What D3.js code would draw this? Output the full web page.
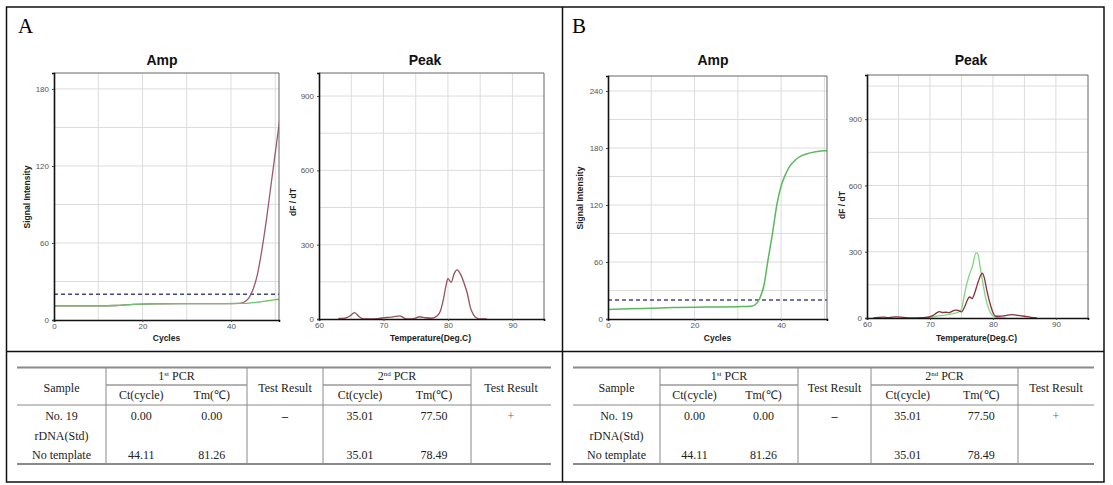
<!DOCTYPE html>
<html><head><meta charset="utf-8">
<script src="https://cdn.jsdelivr.net/npm/d3@7"></script>
<style>body{margin:0;background:#fff}</style>
</head><body><svg id="c" width="1113" height="485"></svg>
<script>
// ---------- DATA ----------
const ampA_cycles = [0, 5, 10, 14, 18, 22, 30, 38, 42, 43, 44, 45, 46, 47, 48, 49, 50, 51];
const ampA_green  = [11, 11, 11, 11.3, 12.2, 12.6, 12.7, 12.8, 12.9, 13, 13.2, 13.5, 13.9, 14.3, 14.8, 15.3, 15.8, 16.2];
const ampA_red    = [11, 11, 11, 11.3, 12.2, 12.6, 12.7, 12.8, 13, 14, 17, 24, 36, 55, 78, 104, 130, 156];
const ampA_threshold = 20;

const ampB_cycles = [0, 5, 10, 15, 20, 25, 30, 33, 34, 35, 36, 37, 38, 39, 40, 41, 42, 43, 44, 45, 46, 48, 50, 51];
const ampB_green  = [10, 10.8, 11.4, 12, 12.4, 12.7, 13, 13.3, 15, 21, 35, 63, 90, 120, 140, 152, 161, 166, 170, 172.5, 174, 176, 177, 177];
const ampB_threshold = 20;

const peakA_temp = [63, 64, 64.8, 65.5, 66.3, 67, 68, 69, 69.5, 70.5, 71.5, 72.5, 73.3, 74, 75, 75.6, 76.5, 77.5, 78.3, 78.8, 79.3, 79.7, 80, 80.5, 81, 81.4, 82, 82.5, 83, 83.5, 84, 84.5, 85, 86];
const peakA_red  = [2, 3, 12, 26, 8, 0, 0, 1, 3, 6, 9, 13, 3, 0, 4, 9, 5, 3, 12, 30, 80, 135, 163, 148, 185, 198, 178, 145, 104, 45, 16, 4, 0, 0];

const peakB_greenTemp = [68, 70, 71, 72, 73, 74, 74.6, 75, 75.4, 75.8, 76.2, 76.8, 77.3, 77.6, 78, 78.4, 78.8, 79.4, 80, 80.6, 82];
const peakB_green     = [0, 3, 8, 12, 16, 22, 28, 40, 95, 150, 190, 240, 295, 290, 225, 160, 97, 36, 10, 3, 0];
const peakB_redTemp = [61, 62.5, 63.5, 64.5, 65.5, 67, 69, 70, 70.5, 71, 71.5, 72, 72.5, 73, 73.5, 74, 74.5, 75, 75.5, 76, 76.3, 76.7, 77, 77.5, 78, 78.3, 78.6, 79, 79.5, 80, 80.5, 81, 82, 83, 84, 85, 86, 87];
const peakB_red     = [0, 4, 2, 5, 4, 0, 2, 6, 12, 22, 29, 25, 26, 24, 30, 36, 34, 28, 50, 85, 95, 88, 105, 150, 190, 203, 185, 130, 70, 25, 8, 8, 11, 15, 12, 8, 3, 0];

const ampTicksA = [0, 60, 120, 180];
const ampTicksB = [0, 60, 120, 180, 240];
const cycleTicks = [0, 20, 40];
const peakYTicks = [0, 300, 600, 900];
const tempTicks = [60, 70, 80, 90];

const tableSamples = ["No. 19", "rDNA(Std)", "No template"];
const tableCt1 = ["0.00", "", "44.11"];
const tableTm1 = ["0.00", "", "81.26"];
const tableRes1 = ["\u2013", "", ""];
const tableCt2 = ["35.01", "", "35.01"];
const tableTm2 = ["77.50", "", "78.49"];
const tableRes2 = ["+", "", ""];

// ---------- DRAW ----------
const svg = d3.select('#c');
const SANS = "'Liberation Sans', Arial, sans-serif";
const SERIF = "'Liberation Serif', 'Times New Roman', serif";
let clipId = 0;

function plot(cfg) {
  const g = svg.append('g');
  const x = d3.scaleLinear().domain(cfg.xDomain).range([cfg.left, cfg.right]);
  const y = d3.scaleLinear().domain(cfg.yDomain).range([cfg.bottom, cfg.top]);
  g.append('rect').attr('x', cfg.left).attr('y', cfg.top)
    .attr('width', cfg.right - cfg.left).attr('height', cfg.bottom - cfg.top).attr('fill', '#fff');
  g.append('g').selectAll('line').data(cfg.gridX).join('line')
    .attr('x1', d => x(d)).attr('x2', d => x(d)).attr('y1', cfg.top).attr('y2', cfg.bottom)
    .attr('stroke', '#dcdcdc').attr('stroke-width', 1);
  g.append('g').selectAll('line').data(cfg.gridY).join('line')
    .attr('y1', d => y(d)).attr('y2', d => y(d)).attr('x1', cfg.left).attr('x2', cfg.right)
    .attr('stroke', '#dcdcdc').attr('stroke-width', 1);
  const id = 'clip' + (clipId++);
  g.append('clipPath').attr('id', id).append('rect')
    .attr('x', cfg.left).attr('y', cfg.top).attr('width', cfg.right - cfg.left).attr('height', cfg.bottom - cfg.top);
  const lg = g.append('g').attr('clip-path', `url(#${id})`);
  if (cfg.threshold != null) {
    lg.append('line').attr('x1', cfg.left).attr('x2', cfg.right)
      .attr('y1', y(cfg.threshold)).attr('y2', y(cfg.threshold))
      .attr('stroke', '#45458f').attr('stroke-width', 1.6).attr('stroke-dasharray', '4,3');
  }
  cfg.series.forEach(s => {
    const pts = s.xs.map((v, i) => [v, s.ys[i]]);
    lg.append('path').datum(pts)
      .attr('d', d3.line().x(d => x(d[0])).y(d => y(d[1])).curve(d3.curveMonotoneX))
      .attr('fill', 'none').attr('stroke', s.color).attr('stroke-width', s.width || 1.3);
  });
  g.append('path').attr('d', `M${cfg.left},${cfg.top}H${cfg.right}V${cfg.bottom}`)
    .attr('fill', 'none').attr('stroke', '#666').attr('stroke-width', 1);
  const ax = g.append('g').attr('transform', `translate(0,${cfg.bottom})`)
    .call(d3.axisBottom(x).tickValues(cfg.xTicks).tickSize(2).tickPadding(1).tickFormat(d3.format('d')));
  const ay = g.append('g').attr('transform', `translate(${cfg.left},0)`)
    .call(d3.axisLeft(y).tickValues(cfg.yTicks).tickSize(2).tickPadding(3).tickFormat(d3.format('d')));
  [ax, ay].forEach(a => {
    a.select('.domain').attr('stroke', '#111').attr('stroke-width', 1.6);
    a.selectAll('.tick line').attr('stroke', '#444');
    a.selectAll('text').attr('font-family', SANS).attr('font-size', 8).attr('fill', '#555');
  });
  g.append('text').attr('x', cfg.titleX).attr('y', 65).attr('text-anchor', 'middle')
    .attr('font-family', SANS).attr('font-weight', 'bold').attr('font-size', 14).attr('fill', '#111').text(cfg.title);
  g.append('text').attr('x', (cfg.left + cfg.right) / 2 + cfg.xLabelShift).attr('y', 341).attr('text-anchor', 'middle')
    .attr('font-family', SANS).attr('font-weight', 'bold').attr('font-size', 8.5).attr('fill', '#222').text(cfg.xLabel);
  g.append('text').attr('transform', `translate(${cfg.yLabelX},${cfg.yLabelY}) rotate(-90)`).attr('text-anchor', 'middle')
    .attr('font-family', SANS).attr('font-weight', 'bold').attr('font-size', 8.5).attr('fill', '#222').text(cfg.yLabel);
}

const range = (a, b, s) => d3.range(a, b + 1e-9, s);

plot({ left: 54, right: 279, top: 73, bottom: 320, xDomain: [0, 50.85], yDomain: [0, 192.4],
  gridX: range(10, 50, 10), gridY: range(30, 180, 30), xTicks: cycleTicks, yTicks: ampTicksA,
  threshold: ampA_threshold, title: 'Amp', titleX: 162, xLabel: 'Cycles', xLabelShift: 0,
  yLabel: 'Signal Intensity', yLabelX: 30, yLabelY: 197,
  series: [
    { xs: ampA_cycles, ys: ampA_red, color: '#9a5a6c' },
    { xs: ampA_cycles.slice(0, 9), ys: ampA_green.slice(0, 9), color: '#6cc46c' },
    { xs: ampA_cycles.slice(8), ys: ampA_green.slice(8), color: '#6cc46c' }
  ] });
plot({ left: 319, right: 544, top: 73, bottom: 319, xDomain: [60, 94.9], yDomain: [0, 993],
  gridX: range(65, 90, 5), gridY: range(150, 900, 150), xTicks: tempTicks, yTicks: peakYTicks,
  threshold: null, title: 'Peak', titleX: 425, xLabel: 'Temperature(Deg.C)', xLabelShift: -1,
  yLabel: 'dF / dT', yLabelX: 296, yLabelY: 202,
  series: [ { xs: peakA_temp, ys: peakA_red, color: '#94505e' } ] });

plot({ left: 608, right: 827, top: 76, bottom: 319, xDomain: [0, 50.6], yDomain: [0, 255.8],
  gridX: range(10, 50, 10), gridY: range(30, 240, 30), xTicks: cycleTicks, yTicks: ampTicksB,
  threshold: ampB_threshold, title: 'Amp', titleX: 713, xLabel: 'Cycles', xLabelShift: 0,
  yLabel: 'Signal Intensity', yLabelX: 583, yLabelY: 198,
  series: [ { xs: ampB_cycles, ys: ampB_green, color: '#5cb85c', width: 1.5 } ] });
plot({ left: 867, right: 1088, top: 75, bottom: 318, xDomain: [60, 95.1], yDomain: [0, 1100],
  gridX: range(65, 90, 5), gridY: range(150, 1050, 150), xTicks: tempTicks, yTicks: peakYTicks,
  threshold: null, title: 'Peak', titleX: 971, xLabel: 'Temperature(Deg.C)', xLabelShift: -1,
  yLabel: 'dF / dT', yLabelX: 845, yLabelY: 205,
  series: [ { xs: peakB_greenTemp, ys: peakB_green, color: '#7fd87f' },
            { xs: peakB_redTemp, ys: peakB_red, color: '#8a2f3c' } ] });

[['A', 18], ['B', 572]].forEach(([t, px]) => {
  svg.append('text').attr('x', px).attr('y', 33).attr('font-family', SERIF).attr('font-size', 21)
    .attr('fill', '#000').text(t);
});

function table(edges) {
  const g = svg.append('g');
  const L = edges[0], R = edges[edges.length - 1];
  const yTop = 367.5, yMid = 385, yHead = 405, yBot = 464;
  const line = (x1, y1, x2, y2, w, c) => g.append('line').attr('x1', x1).attr('y1', y1).attr('x2', x2).attr('y2', y2)
    .attr('stroke', c).attr('stroke-width', w);
  line(L, yTop, R, yTop, 2, '#8a8a8a');
  line(L, yBot, R, yBot, 2, '#8a8a8a');
  line(L, yHead, R, yHead, 1, '#8a8a8a');
  line(edges[1], yMid, edges[3], yMid, 1.5, '#9a9a9a');
  line(edges[4], yMid, edges[6], yMid, 1.5, '#9a9a9a');
  [1, 3, 4, 6].forEach(i => line(edges[i], yTop, edges[i], yBot, 1, '#8a8a8a'));
  const txt = (x, y, s, fill) => g.append('text').attr('x', x).attr('y', y).attr('text-anchor', 'middle')
    .attr('font-family', SERIF).attr('font-size', 12).attr('fill', fill || '#222').text(s);
  const c = i => (edges[i] + edges[i + 1]) / 2;
  const cs = (i, j) => (edges[i] + edges[j]) / 2;
  txt(c(0), 392, 'Sample');
  txt(c(3), 392, 'Test Result');
  txt(c(6), 392, 'Test Result');
  [[1, '1', 'st'], [4, '2', 'nd']].forEach(([i, n, sup]) => {
    const t = g.append('text').attr('x', cs(i, i + 2)).attr('y', 380).attr('text-anchor', 'middle')
      .attr('font-family', SERIF).attr('font-size', 12).attr('fill', '#222');
    t.append('tspan').text(n);
    t.append('tspan').attr('font-size', 7).attr('dy', -4).text(sup);
    t.append('tspan').attr('dy', 4).text(' PCR');
  });
  [1, 4].forEach(i => { txt(c(i), 399, 'Ct(cycle)'); txt(c(i + 1), 399, 'Tm(\u2103)'); });
  const rowsY = [420, 440, 459];
  tableSamples.forEach((s, r) => {
    txt(c(0), rowsY[r], s);
    txt(c(1), rowsY[r], tableCt1[r]);
    txt(c(2), rowsY[r], tableTm1[r]);
    g.append('text').attr('x', c(3)).attr('y', rowsY[r]).attr('text-anchor', 'middle')
      .attr('font-family', SERIF).attr('font-size', 12).attr('font-weight', 'bold').attr('fill', '#333').text(tableRes1[r]);
    txt(c(4), rowsY[r], tableCt2[r]);
    txt(c(5), rowsY[r], tableTm2[r]);
    txt(c(6), rowsY[r], tableRes2[r], '#666');
  });
}
table([17, 106, 176.5, 247, 323, 397, 471, 551]);
table([573, 660, 729, 798, 871, 944.5, 1018, 1094]);

const fr = svg.append('g').attr('fill', 'none').attr('stroke', '#111').attr('stroke-width', 1.5);
fr.append('rect').attr('x', 6.5).attr('y', 7).attr('width', 1104 - 6.5).attr('height', 482 - 7);
fr.append('line').attr('x1', 562.5).attr('x2', 562.5).attr('y1', 7).attr('y2', 482);
fr.append('line').attr('x1', 6.5).attr('x2', 1104).attr('y1', 351.5).attr('y2', 351.5);
</script></body></html>
